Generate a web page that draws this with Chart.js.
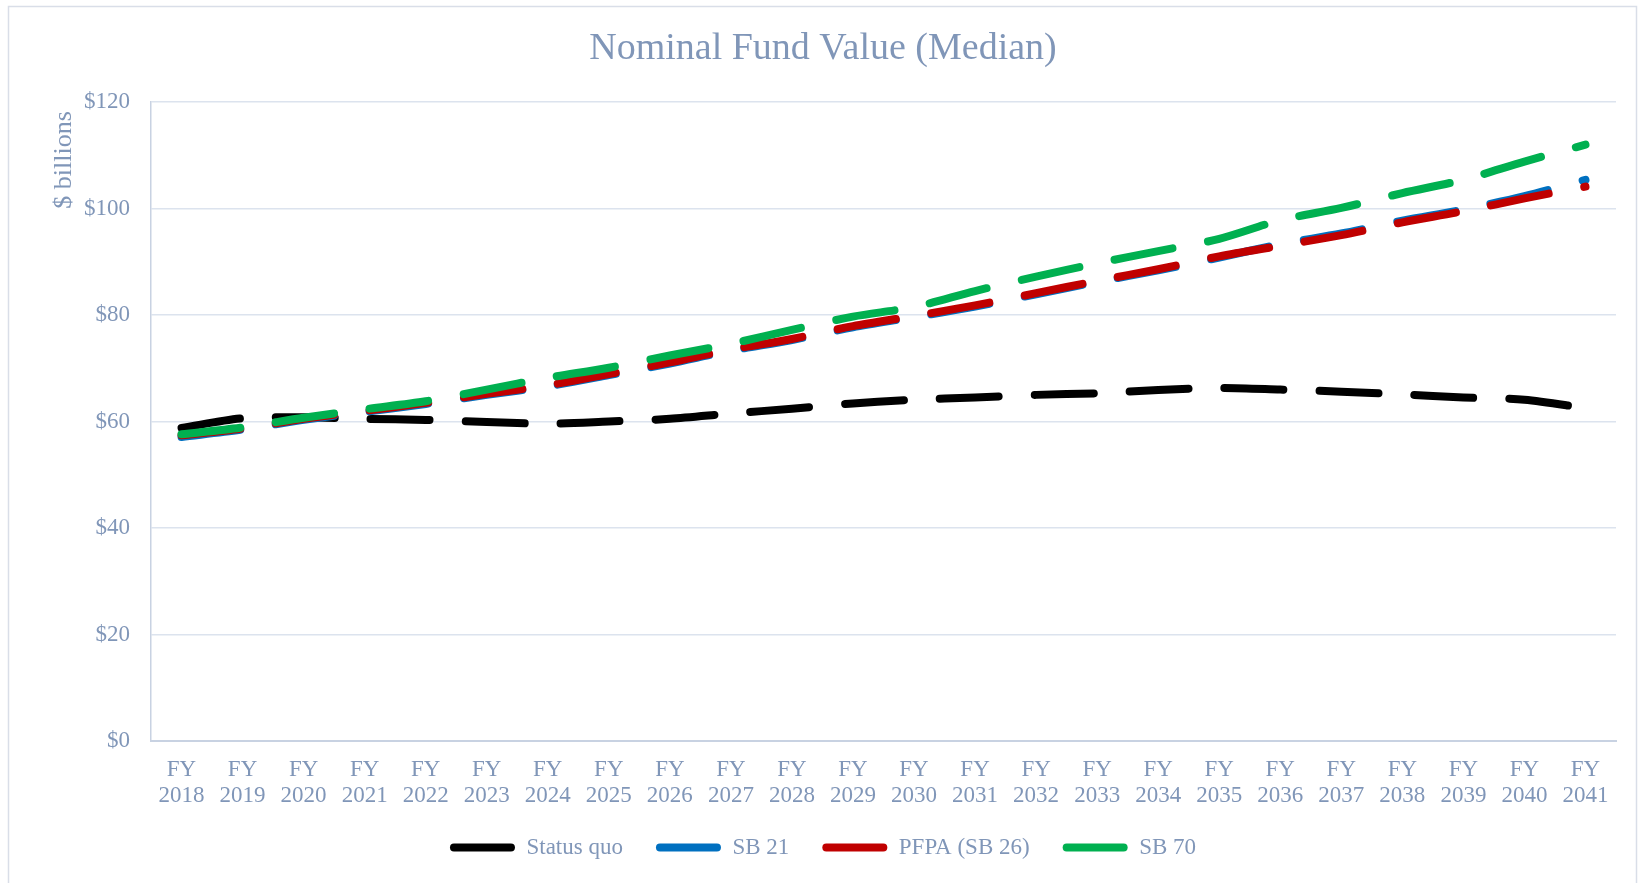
<!DOCTYPE html>
<html>
<head>
<meta charset="utf-8">
<script src="https://cdn.jsdelivr.net/npm/chart.js@4.4.1/dist/chart.umd.min.js"></script>
<style>
  html, body { margin: 0; padding: 0; background: #ffffff; }
  #wrap { width: 1640px; height: 883px; position: relative; }
</style>
</head>
<body>
<div id="wrap"><canvas id="c" width="1640" height="883"></canvas></div>
<script>
const categories = [
  ['FY','2018'],['FY','2019'],['FY','2020'],['FY','2021'],['FY','2022'],['FY','2023'],
  ['FY','2024'],['FY','2025'],['FY','2026'],['FY','2027'],['FY','2028'],['FY','2029'],
  ['FY','2030'],['FY','2031'],['FY','2032'],['FY','2033'],['FY','2034'],['FY','2035'],
  ['FY','2036'],['FY','2037'],['FY','2038'],['FY','2039'],['FY','2040'],['FY','2041']
];
const statusQuo = [58.8, 60.6, 60.8, 60.5, 60.3, 59.9, 59.6, 60.0, 60.5, 61.5, 62.4, 63.4,
                   64.1, 64.5, 65.0, 65.3, 65.9, 66.3, 66.0, 65.6, 65.1, 64.5, 64.1, 62.5];
const sb21 = [57.1, 58.5, 60.3, 61.8, 63.3, 65.0, 66.6, 68.7, 70.9, 73.3, 75.3, 77.7,
              79.6, 81.6, 83.9, 86.2, 88.4, 90.8, 93.3, 95.3, 97.7, 99.8, 102.3, 105.4];
const pfpa = [57.4, 58.7, 60.5, 62.0, 63.5, 65.2, 66.8, 68.9, 71.1, 73.5, 75.5, 77.9,
              79.8, 81.8, 84.1, 86.4, 88.6, 91.0, 93.0, 95.0, 97.4, 99.5, 101.9, 104.1];
const sb70 = [57.6, 58.9, 60.7, 62.3, 63.8, 66.0, 68.2, 70.1, 72.4, 74.6, 77.2, 79.7,
              81.5, 84.5, 87.2, 89.7, 92.0, 94.3, 97.8, 100.1, 102.9, 105.4, 108.8, 112.0];
const seriesNames = ['Status quo', 'SB 21', 'PFPA (SB 26)', 'SB 70'];
const yTicks = [0, 20, 40, 60, 80, 100, 120];
const chartTitle = 'Nominal Fund Value (Median)';
const yAxisTitle = '$ billions';

const textColor = '#8096B8';
const gridColor = '#DCE3EE';
const axisColor = '#C8D2E2';
const fontFamily = '"Liberation Serif", "Times New Roman", serif';

function lineDs(label, data, color, order) {
  return {
    label, data,
    borderColor: color, backgroundColor: color,
    borderWidth: 8, borderDash: [59, 36], borderCapStyle: 'round', borderJoinStyle: 'round',
    pointRadius: 0, pointHoverRadius: 0, tension: 0.3, fill: false, order
  };
}

const frame = {
  id: 'frame',
  beforeDraw(chart) {
    const ctx = chart.ctx;
    ctx.save();
    ctx.fillStyle = '#ffffff';
    ctx.fillRect(0, 0, chart.width, chart.height);
    ctx.strokeStyle = '#D9DEE8';
    ctx.lineWidth = 1.5;
    ctx.strokeRect(8.5, 6.5, 1628, 890);
    ctx.restore();
  },
  afterDraw(chart) {
    const ctx = chart.ctx;
    ctx.save();
    ctx.translate(64, 160);
    ctx.rotate(-Math.PI / 2);
    ctx.fillStyle = textColor;
    ctx.font = '26px ' + fontFamily;
    ctx.textAlign = 'center';
    ctx.textBaseline = 'middle';
    ctx.fillText(yAxisTitle, 0, 0);
    ctx.restore();
  }
};

new Chart(document.getElementById('c'), {
  type: 'line',
  data: {
    labels: categories,
    datasets: [
      lineDs(seriesNames[0], statusQuo, '#000000', 4),
      lineDs(seriesNames[1], sb21, '#0070C0', 3),
      lineDs(seriesNames[2], pfpa, '#C00000', 2),
      lineDs(seriesNames[3], sb70, '#00B050', 1)
    ]
  },
  plugins: [frame],
  options: {
    responsive: false,
    animation: false,
    layout: { padding: { left: 15, right: 9, top: 0, bottom: 14 } },
    plugins: {
      title: {
        display: true,
        text: chartTitle,
        color: textColor,
        font: { family: fontFamily, size: 38, weight: 'normal', lineHeight: 1.2 },
        padding: { top: 26.2, bottom: 30.2 }
      },
      legend: {
        position: 'bottom',
        labels: {
          boxWidth: 65, boxHeight: 8, padding: 33,
          useBorderRadius: true, borderRadius: 4,
          color: textColor,
          font: { family: fontFamily, size: 23 },
          generateLabels: (chart) => chart.data.datasets.map((ds, i) => ({
            text: ds.label,
            fillStyle: ds.borderColor,
            strokeStyle: ds.borderColor,
            lineWidth: 0,
            borderRadius: 4,
            fontColor: textColor,
            hidden: false,
            datasetIndex: i
          }))
        }
      },
      tooltip: { enabled: false }
    },
    scales: {
      x: {
        offset: true,
        grid: { display: false, drawTicks: false, tickLength: 0 },
        border: { display: true, color: axisColor, width: 2 },
        ticks: {
          color: textColor, padding: 16, maxRotation: 0, autoSkip: false,
          font: { family: fontFamily, size: 23, lineHeight: 1.13 }
        },
        afterFit(scale) { scale.height = 62; }
      },
      y: {
        min: 0, max: 120,
        afterBuildTicks(scale) { scale.ticks = yTicks.map(v => ({ value: v })); },
        grid: { color: gridColor, lineWidth: 1.5, drawTicks: false, tickLength: 0 },
        border: { display: true, color: axisColor, width: 1.5 },
        ticks: {
          color: textColor, padding: 21,
          font: { family: fontFamily, size: 23 },
          callback: (v) => '$' + v
        },
        afterFit(scale) { scale.width = 136; }
      },
      yRightSpacer: {
        position: 'right',
        display: true,
        min: 0, max: 120,
        grid: { display: false, drawTicks: false },
        border: { display: false },
        ticks: { display: false },
        afterFit(scale) { scale.width = 15; }
      }
    }
  }
});
</script>
</body>
</html>
